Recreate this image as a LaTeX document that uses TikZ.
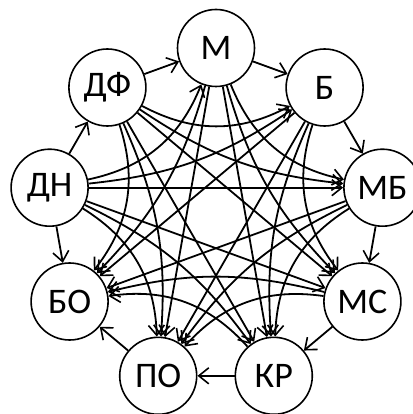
\documentclass[tikz,border=0pt]{standalone}
\usepackage{fontspec}
\setmainfont{Carlito}
\usetikzlibrary{arrows.meta}
\begin{document}
\begin{tikzpicture}[x=1pt,y=-1pt,
  vtx/.style={circle,draw,line width=1.6pt,fill=white,minimum size=77pt,inner sep=0pt,
    font=\fontsize{36}{36}\selectfont},
  edge/.style={line width=1.8pt,-{Straight Barb[length=10pt,width=16pt,line width=1.6pt]}}]
\useasboundingbox (0,0) rectangle (412,414);
\node[vtx] (n0) at (49.6,187.7) {ДН};
\node[vtx] (n1) at (107.4,87.5) {ДФ};
\node[vtx] (n2) at (216,48) {М};
\node[vtx] (n3) at (324.6,87.5) {Б};
\node[vtx] (n4) at (382.4,187.7) {МБ};
\node[vtx] (n5) at (362.4,301.5) {МС};
\node[vtx] (n6) at (273.8,375.8) {КР};
\node[vtx] (n7) at (158.2,375.8) {ПО};
\node[vtx] (n8) at (69.6,301.5) {БО};
\foreach \i in {0,...,7}{
  \pgfmathtruncatemacro\s{\i+1}
  \foreach \j in {\s,...,8}{
    \pgfmathtruncatemacro\d{\j-\i}
    \pgfmathtruncatemacro\e{min(\d,9-\d)}
    \pgfmathsetmacro\b{\e==2 ? 28 : (\e==3 ? 14 : 0)}
    \ifnum\d<5
      \draw[edge] (n\i) to[bend right=\b] (n\j);
    \else
      \draw[edge] (n\i) to[bend left=\b] (n\j);
    \fi
  }
}
\end{tikzpicture}
\end{document}
